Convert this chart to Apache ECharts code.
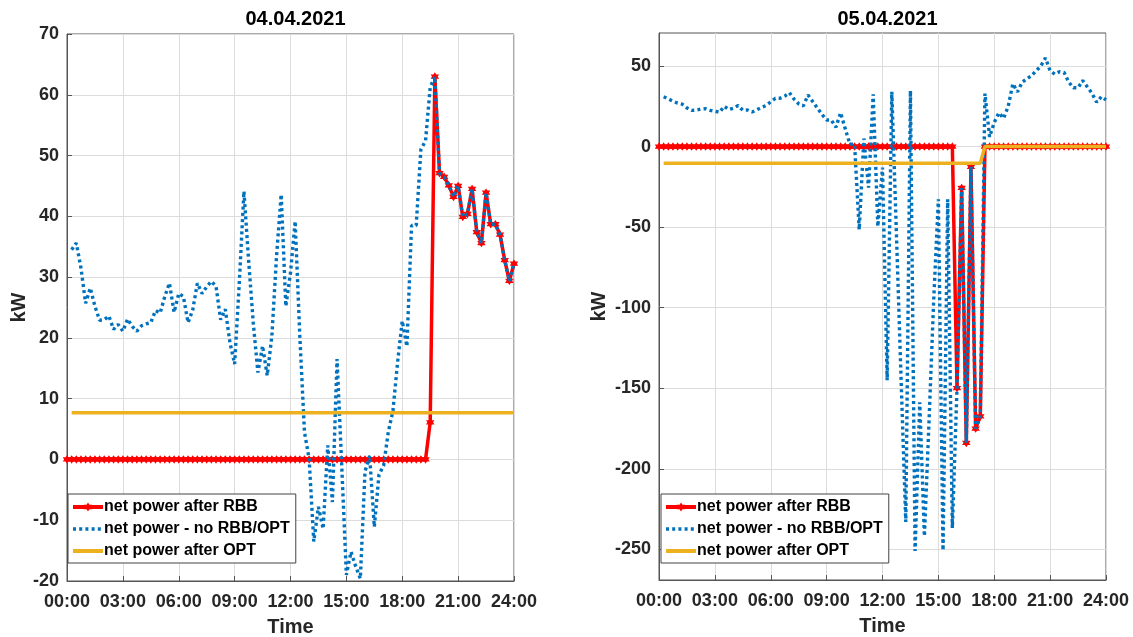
<!DOCTYPE html>
<html>
<head>
<meta charset="utf-8">
<script src="https://cdn.jsdelivr.net/npm/echarts@6/dist/echarts.min.js"></script>
<style>
html,body{margin:0;padding:0;background:#fff;}
#chart{width:1133px;height:637px;}
</style>
</head>
<body>
<div id="chart"></div>
<script>
// ---------- data (15-min samples, hours) ----------
const titles = ['04.04.2021', '05.04.2021'];
const seriesNames = ['net power after RBB', 'net power - no RBB/OPT', 'net power after OPT'];
const xTickLabels = ['00:00','03:00','06:00','09:00','12:00','15:00','18:00','21:00','24:00'];
const yTicksRight = [-250, -200, -150, -100, -50, 0, 50];

// sample times 0.00 .. 24.00 h, step 0.25 h
const times = Array.from({length: 97}, (_, i) => i / 4);

// left day: net power - no RBB/OPT (0.25 .. 24.00 h)
const blueLeft = [
  34.5,35.6,31.5,25.7,28.2,25.2,22.9,23.0,23.6,21.4,22.2,21.1,23.1,21.9,21.1,22.0,
  22.3,22.5,24.5,24.1,26.8,29.0,24.2,27.3,26.8,22.5,24.6,29.0,27.3,28.4,29.3,28.5,
  23.0,24.7,19.2,15.7,29.0,44.1,32.8,22.5,14.3,18.7,13.8,20.3,33.4,43.6,25.2,30.7,
  39.2,20.3,4.5,0.1,-13.5,-7.8,-11.4,2.3,-7.0,16.5,-1.0,-19.0,-15.2,-17.6,-19.6,-2.0,
  0.6,-11.1,-2.5,-1.0,4.5,8.0,16.0,22.8,18.6,38.5,38.5,51.0,52.4,61.2,63.0,47.1,
  46.5,45.1,43.2,45.0,39.9,40.4,44.5,37.4,35.6,43.9,38.7,38.7,37.0,32.8,29.4,32.2
];
// left day: net power after RBB (0.00 .. 24.00 h)
const redLeft = [
  0,0,0,0,0,0,0,0,0,0, 0,0,0,0,0,0,0,0,0,0, 0,0,0,0,0,0,0,0,0,0, 0,0,0,0,0,0,0,0,0,0,
  0,0,0,0,0,0,0,0,0,0, 0,0,0,0,0,0,0,0,0,0, 0,0,0,0,0,0,0,0,0,0, 0,0,0,0,0,0,0,0,
  6.1,63.0,
  47.1,46.5,45.1,43.2,45.0,39.9,40.4,44.5,37.4,35.6,43.9,38.7,38.7,37.0,32.8,29.4,32.2
];
// left day: net power after OPT
const yellowLeftT = [0.25, 24];
const yellowLeftV = [7.7, 7.7];

// right day: net power - no RBB/OPT (0.25 .. 24.00 h)
const blueRight = [
  30.9,29.6,28.2,27.0,26.3,24.0,22.5,22.6,23.3,23.5,22.5,22.0,21.3,25.0,23.0,23.8,
  25.5,22.5,22.7,21.5,22.8,24.3,25.5,27.8,30.0,30.0,31.3,33.5,29.5,26.5,25.3,32.0,
  28.0,24.0,20.0,16.5,16.5,12.0,21.0,11.0,1.5,1.5,-51.5,5.0,-25.5,32.5,-49.6,-13.0,
  -145,34,-55,-145,-233,34.6,-251,-158.7,-241.8,-170,-95,-32.7,-250.6,-32.7,-236.8,-149.9,
  -25.7,-183.9,-12.6,-175,-167.5,33,6,15,21,17.5,25,39,34,40,42,44,
  47,50,55,47,45,46.5,46,40,36.5,36.5,41,37,33,27.5,31,29
];
// right day: net power after RBB (0.00 .. 24.00 h)
const redRight = [
  0,0,0,0,0,0,0,0,0,0, 0,0,0,0,0,0,0,0,0,0, 0,0,0,0,0,0,0,0,0,0, 0,0,0,0,0,0,0,0,0,0,
  0,0,0,0,0,0,0,0,0,0, 0,0,0,0,0,0,0,0,0,0, 0,0,0,0,
  -149.9,-25.7,-183.9,-12.6,-175,-167.5,
  0,0,0,0,0,0,0,0,0,0, 0,0,0,0,0,0,0,0,0,0, 0,0,0,0,0,0,0
];
// right day: net power after OPT
const yellowRightT = [0.25, 17.25, 17.5, 24];
const yellowRightV = [-10.3, -10.3, 0, 0];

// ---------- styling ----------
const FONT = 'Liberation Sans, Arial, sans-serif';
const TXT = '#262626';
const RED = '#FF0000', BLUE = '#0072BD', YEL = '#EDB120';
const HEX = 'path://M50 0 L64.4 25 L93.3 25 L78.9 50 L93.3 75 L64.4 75 L50 100 L35.6 75 L6.7 75 L21.1 50 L6.7 25 L35.6 25 Z';

const pairs = (t, v) => v.map((y, i) => [t[i], y]);
const blueT = times.slice(1);

const grids = [
  {left: 67, top: 34, width: 447, height: 547},
  {left: 659, top: 33, width: 447, height: 547}
];

function xAxis(gi) {
  return {
    type: 'value', gridIndex: gi, min: 0, max: 24, interval: 3,
    name: 'Time', nameLocation: 'middle', nameGap: 36,
    nameTextStyle: {fontFamily: FONT, fontWeight: 'bold', fontSize: 20, color: TXT},
    axisLine: {show: true, onZero: false, lineStyle: {color: '#555', width: 1}},
    axisTick: {show: true, inside: true, length: 5, lineStyle: {color: '#555'}},
    axisLabel: {fontFamily: FONT, fontWeight: 'bold', fontSize: 18, color: TXT, margin: 12,
      formatter: v => xTickLabels[Math.round(v / 3)]},
    splitLine: {show: true, lineStyle: {color: '#dcdcdc', width: 1}}
  };
}

function yAxisLeft() {
  return {
    type: 'value', gridIndex: 0, min: -20, max: 70, interval: 10,
    name: 'kW', nameLocation: 'middle', nameGap: 37, nameRotate: 90,
    nameTextStyle: {fontFamily: FONT, fontWeight: 'bold', fontSize: 20, color: TXT},
    axisLine: {show: true, lineStyle: {color: '#555', width: 1}},
    axisTick: {show: true, inside: true, length: 5, lineStyle: {color: '#555'}},
    axisLabel: {fontFamily: FONT, fontWeight: 'bold', fontSize: 18, color: TXT, margin: 8},
    splitLine: {show: true, lineStyle: {color: '#dcdcdc', width: 1}}
  };
}

function yAxisRight() {
  return {
    type: 'value', gridIndex: 1, min: -269, max: 70.5,
    name: 'kW', nameLocation: 'middle', nameGap: 50, nameRotate: 90,
    nameTextStyle: {fontFamily: FONT, fontWeight: 'bold', fontSize: 20, color: TXT},
    axisLine: {show: true, lineStyle: {color: '#555', width: 1}},
    axisTick: {show: true, inside: true, length: 5, lineStyle: {color: '#555'}, customValues: yTicksRight},
    axisLabel: {fontFamily: FONT, fontWeight: 'bold', fontSize: 18, color: TXT, margin: 8, customValues: yTicksRight},
    splitLine: {show: true, lineStyle: {color: '#dcdcdc', width: 1}}
  };
}

function daySeries(gi, red, blue, yT, yV) {
  return [
    {
      name: seriesNames[0], type: 'line', xAxisIndex: gi, yAxisIndex: gi,
      data: pairs(times, red), symbol: HEX, symbolSize: 8.5, showSymbol: true,
      lineStyle: {color: RED, width: 3.5}, itemStyle: {color: RED},
      animation: false, z: 2
    },
    {
      name: seriesNames[1], type: 'line', xAxisIndex: gi, yAxisIndex: gi,
      data: pairs(blueT, blue), showSymbol: false, symbol: 'none',
      lineStyle: {color: BLUE, width: 3.4, type: [3, 3.2]}, itemStyle: {color: BLUE},
      animation: false, z: 3
    },
    {
      name: seriesNames[2], type: 'line', xAxisIndex: gi, yAxisIndex: gi,
      data: pairs(yT, yV), showSymbol: false, symbol: 'none',
      lineStyle: {color: YEL, width: 3.5}, itemStyle: {color: YEL},
      animation: false, z: 4
    }
  ];
}

function legend(left) {
  return {
    show: true, orient: 'vertical', left: left, top: 494,
    data: [
      {name: seriesNames[0], lineStyle: {width: 4}},
      {name: seriesNames[1], itemStyle: {opacity: 0}, lineStyle: {width: 3.4, type: [3, 3.2]}},
      {name: seriesNames[2], itemStyle: {opacity: 0}, lineStyle: {width: 4}}
    ],
    itemWidth: 30, itemHeight: 11, itemGap: 6,
    padding: [5, 6, 4, 3],
    backgroundColor: '#fff', borderColor: '#444', borderWidth: 1, borderRadius: 0,
    textStyle: {fontFamily: FONT, fontWeight: 'bold', fontSize: 16, color: '#000', padding: [0, 0, 0, -4]},
    selectedMode: false
  };
}

const option = {
  animation: false,
  backgroundColor: '#fff',
  title: [
    {text: titles[0], left: 290.5, top: 4, textAlign: 'center',
     textStyle: {fontFamily: FONT, fontWeight: 'bold', fontSize: 20, color: '#000'}},
    {text: titles[1], left: 882.5, top: 4, textAlign: 'center',
     textStyle: {fontFamily: FONT, fontWeight: 'bold', fontSize: 20, color: '#000'}}
  ],
  grid: grids.map(g => Object.assign({show: true, borderColor: '#555', borderWidth: 1,
    backgroundColor: 'transparent', containLabel: false, outerBoundsMode: 'none'}, g)),
  xAxis: [xAxis(0), xAxis(1)],
  yAxis: [yAxisLeft(), yAxisRight()],
  legend: [legend(68), legend(661)],
  series: [].concat(
    daySeries(0, redLeft, blueLeft, yellowLeftT, yellowLeftV),
    daySeries(1, redRight, blueRight, yellowRightT, yellowRightV)
  )
};

const chart = echarts.init(document.getElementById('chart'), null, {renderer: 'canvas'});
chart.setOption(option);
</script>
</body>
</html>
